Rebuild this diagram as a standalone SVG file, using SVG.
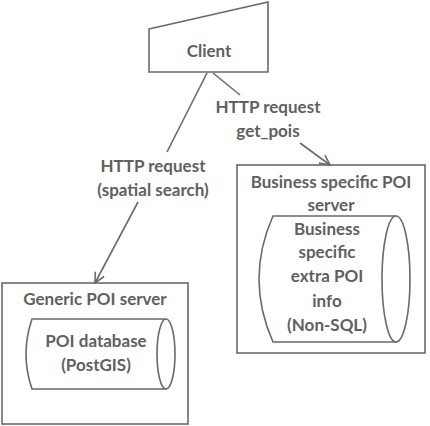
<svg xmlns="http://www.w3.org/2000/svg" width="430" height="426" viewBox="0 0 430 426">
<style>
.s{fill:#fff;stroke:#6a6a6a;stroke-width:1.6}
.t{font-family:Lato,"Liberation Sans",sans-serif;font-weight:bold;font-size:17px;fill:#606060;text-anchor:middle}
.c{fill:none;stroke:#6a6a6a;stroke-width:1.6}
</style>
<defs>
<marker id="a" viewBox="0 0 12 12" refX="11" refY="6" markerWidth="12" markerHeight="12" markerUnits="userSpaceOnUse" orient="auto">
<path d="M1,1 L11,6 L1,11" fill="none" stroke="#6a6a6a" stroke-width="1.6"/>
</marker>
</defs>
<rect width="430" height="426" fill="#fff"/>
<g id="client">
<polygon class="s" points="149,29 268,2 268,72 149,72"/>
<text class="t" x="209" y="57">Client</text>
</g>
<g id="generic">
<rect class="s" x="2" y="283" width="186" height="141"/>
<text class="t" x="95" y="305">Generic POI server</text>
<path class="s" d="M32,319 L166,319 A9,35 0 0 1 166,389 L32,389 Q20,354 32,319 Z"/>
<path class="c" d="M166,319 A9,35 0 0 0 166,389"/>
<text class="t" x="96" y="347">POI database</text>
<text class="t" x="96" y="371">(PostGIS)</text>
</g>
<g id="business">
<rect class="s" x="237" y="165" width="188" height="188"/>
<text class="t" x="331" y="188">Business specific POI</text>
<text class="t" x="331" y="211">server</text>
<path class="s" d="M273,216 L396,216 A14,63 0 0 1 396,342 L273,342 Q245,279 273,216 Z"/>
<path class="c" d="M396,216 A14,63 0 0 0 396,342"/>
<text class="t" x="327" y="235">Business</text>
<text class="t" x="327" y="258">specific</text>
<text class="t" x="327" y="282">extra POI</text>
<text class="t" x="327" y="307">info</text>
<text class="t" x="327" y="331">(Non-SQL)</text>
</g>
<g id="connectors">
<line class="c" x1="207" y1="73" x2="167" y2="152"/>
<line class="c" x1="138" y1="202" x2="95" y2="283" marker-end="url(#a)"/>
<line class="c" x1="213" y1="73" x2="240" y2="95"/>
<line class="c" x1="300" y1="143" x2="330" y2="165" marker-end="url(#a)"/>
<text class="t" x="268" y="113">HTTP request</text>
<text class="t" x="268" y="137">get_pois</text>
<text class="t" x="153" y="172">HTTP request</text>
<text class="t" x="153" y="196">(spatial search)</text>
</g>
</svg>
